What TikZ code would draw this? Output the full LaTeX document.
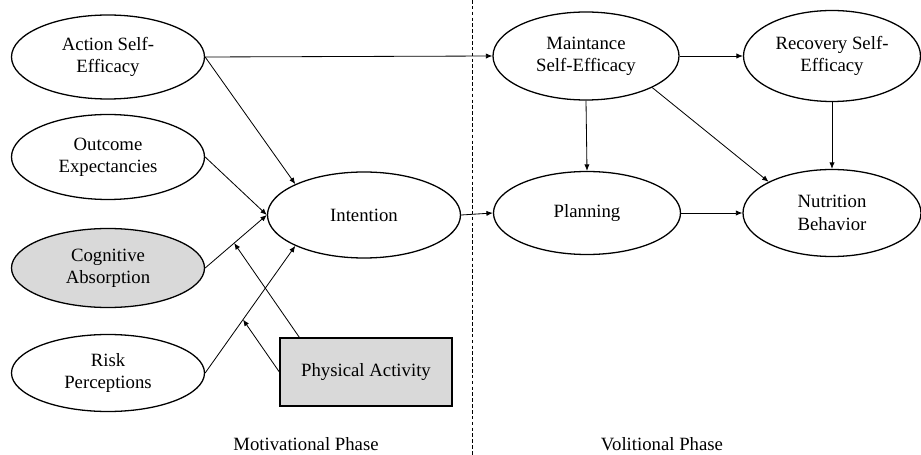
\documentclass[tikz,border=0pt]{standalone}
\usepackage{fontspec}
\setmainfont{Liberation Serif}
\usetikzlibrary{arrows.meta,calc,shapes.geometric}
\definecolor{shade}{HTML}{D9D9D9}

\begin{document}
\begin{tikzpicture}[x=0.03cm,y=-0.03cm,>={Latex[length=5.5pt,width=4.5pt]},
  latent/.style={ellipse,draw,line width=1.1pt,inner sep=0pt,align=center,
    font=\fontsize{16}{19}\selectfont},
  observed/.style={rectangle,draw,line width=1.1pt,fill=shade,inner sep=0pt,
    font=\fontsize{16}{19}\selectfont},
  link/.style={->,line width=0.7pt},
  phase/.style={font=\fontsize{16}{19}\selectfont}]
\useasboundingbox (0,0) rectangle (921,455);
\draw[line width=0.6pt,dash pattern=on 3pt off 2pt] (472,0)--(472,455);

\node[latent,minimum width=5.79cm,minimum height=2.52cm] (ase) at (108,57) {Action Self-\\Efficacy};
\node[latent,minimum width=5.79cm,minimum height=2.55cm] (oe) at (108,157) {Outcome\\Expectancies};
\node[latent,fill=shade,minimum width=5.79cm,minimum height=2.37cm] (ca) at (108,268) {Cognitive\\Absorption};
\node[latent,minimum width=5.79cm,minimum height=2.31cm] (rp) at (108,373) {Risk\\Perceptions};
\node[latent,minimum width=5.79cm,minimum height=2.58cm] (int) at (364,215) {Intention};
\node[observed,minimum width=5.16cm,minimum height=2.04cm] (pa) at (366,372) {Physical Activity};

\node[latent,minimum width=5.58cm,minimum height=2.64cm] (mse) at (586,56) {Maintance\\Self-Efficacy};
\node[latent,minimum width=5.31cm,minimum height=2.73cm] (rse) at (832,56) {Recovery Self-\\Efficacy};
\node[latent,minimum width=5.61cm,minimum height=2.49cm] (plan) at (587,213) {Planning};
\node[latent,minimum width=5.34cm,minimum height=2.61cm] (nb) at (832,213) {Nutrition\\Behavior};

\node[phase] (mot) at (306,444) {Motivational Phase};
\node[phase] (vol) at (662,444) {Volitional Phase};

\draw[link] (ase.east) -- (mse.west);
\draw[link] (ase.east) -- (int.north west);
\draw[link] (oe.east) -- (int.west);
\draw[link] (ca.east) -- coordinate[pos=0.47] (cmid) (int.west);
\draw[link] (rp.east) -- coordinate[pos=0.42] (rmid) (int.south west);
\draw[link] ([xshift=0.6cm]pa.north west) -- (cmid);
\draw[link] (pa.west) -- (rmid);

\draw[link] (int.east) -- (plan.west);
\draw[link] (mse.south) -- (plan.north);
\draw[link] (mse.east) -- (rse.west);
\draw[link] (mse.south east) -- (nb.north west);
\draw[link] (rse.south) -- (nb.north);
\draw[link] (plan.east) -- (nb.west);
\end{tikzpicture}
\end{document}
